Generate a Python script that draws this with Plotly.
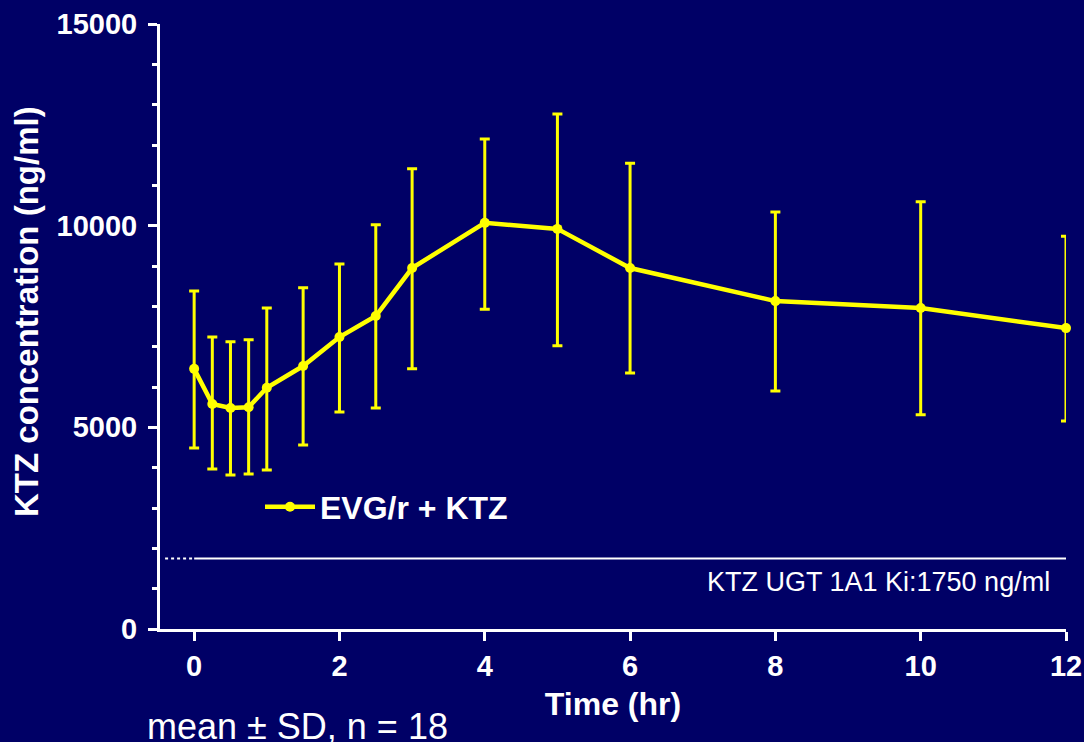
import plotly.graph_objects as go

time_hr = [0, 0.25, 0.5, 0.75, 1, 1.5, 2, 2.5, 3, 4, 5, 6, 8, 10, 12]
mean_conc = [6450, 5580, 5480, 5500, 5980, 6520, 7240, 7760, 8950, 10070, 9920, 8950, 8130, 7960, 7460]
upper_sd = [1930, 1660, 1640, 1670, 1980, 1940, 1810, 2260, 2460, 2080, 2850, 2600, 2210, 2630, 2280]
lower_sd = [1960, 1610, 1660, 1660, 2040, 1960, 1860, 2280, 2500, 2140, 2900, 2600, 2230, 2650, 2300]
ki_value = 1750
ki_label = "KTZ UGT 1A1 Ki:1750 ng/ml"
series_name = "EVG/r + KTZ"
note_text = "mean ± SD, n = 18"
y_title = "KTZ concentration (ng/ml)"
x_title = "Time (hr)"
y_ticks = [0, 5000, 10000, 15000]
y_tick_labels = ["0", "5000", "10000", "15000"]
x_ticks = [0, 2, 4, 6, 8, 10, 12]

BG = "#000066"
YEL = "#FFFF00"
WHITE = "#FFFFFF"
FONT = "Liberation Sans, Arial, sans-serif"

# plot area in pixels
L, R, T, B = 160, 1066, 24, 629
PW, PH = R - L, B - T


def px(x):
    return (x - L) / PW


def py(y):
    return (B - y) / PH


fig = go.Figure()

# Ki threshold line: dotted lead-in, then solid
fig.add_trace(go.Scatter(x=[-0.4, 0], y=[ki_value, ki_value], mode="lines",
                         line=dict(color=WHITE, width=2, dash="dot"),
                         showlegend=False, hoverinfo="skip"))
fig.add_trace(go.Scatter(x=[0, 12], y=[ki_value, ki_value], mode="lines",
                         line=dict(color=WHITE, width=2),
                         showlegend=False, hoverinfo="skip"))

fig.add_trace(go.Scatter(
    x=time_hr, y=mean_conc, mode="lines+markers", name=series_name,
    line=dict(color=YEL, width=4.5),
    marker=dict(color=YEL, size=10),
    cliponaxis=False,
    error_y=dict(type="data", symmetric=False, array=upper_sd, arrayminus=lower_sd,
                 color=YEL, thickness=3, width=5),
))

fig.update_layout(
    width=1084, height=742,
    margin=dict(l=L, r=1084 - R, t=T, b=742 - B),
    paper_bgcolor=BG, plot_bgcolor=BG,
    font=dict(family=FONT, color=WHITE),
    showlegend=True,
    legend=dict(x=px(260), y=py(507), xanchor="left", yanchor="middle",
                bgcolor="rgba(0,0,0,0)",
                font=dict(family=FONT, size=32, color=WHITE, weight="bold"),
                itemwidth=50),
    xaxis=dict(range=[-0.47, 12], tickvals=x_ticks, showgrid=False, zeroline=False,
               automargin=False,
               showline=True, linecolor=WHITE, linewidth=3,
               ticks="outside", tickcolor=WHITE, tickwidth=3, ticklen=9,
               tickfont=dict(family=FONT, size=29, color=WHITE, weight="bold"),
               title=dict(text=x_title, standoff=12,
                          font=dict(family=FONT, size=32, color=WHITE, weight="bold"))),
    yaxis=dict(range=[0, 15000], tickvals=y_ticks, ticktext=y_tick_labels,
               showgrid=False, zeroline=False, automargin=False,
               showline=True, linecolor=WHITE, linewidth=3,
               ticks="outside", tickcolor=WHITE, tickwidth=3, ticklen=9,
               ticklabelstandoff=5,
               tickfont=dict(family=FONT, size=29, color=WHITE, weight="bold"),
               minor=dict(dtick=1000, ticks="outside", ticklen=5, tickwidth=3,
                          tickcolor=WHITE, showgrid=False)),
)

fig.add_annotation(x=px(27), y=py(312), xref="paper", yref="paper",
                   text=y_title, textangle=-90, showarrow=False,
                   font=dict(family=FONT, size=33, color=WHITE, weight="bold"),
                   xanchor="center", yanchor="middle")
fig.add_annotation(x=px(1052), y=py(582), xref="paper", yref="paper",
                   text=ki_label, showarrow=False,
                   font=dict(family=FONT, size=27, color=WHITE),
                   xanchor="right", yanchor="middle")
fig.add_annotation(x=px(145), y=py(726), xref="paper", yref="paper",
                   text=note_text, showarrow=False,
                   font=dict(family=FONT, size=36, color=WHITE),
                   xanchor="left", yanchor="middle")

fig.write_html("out.html")
